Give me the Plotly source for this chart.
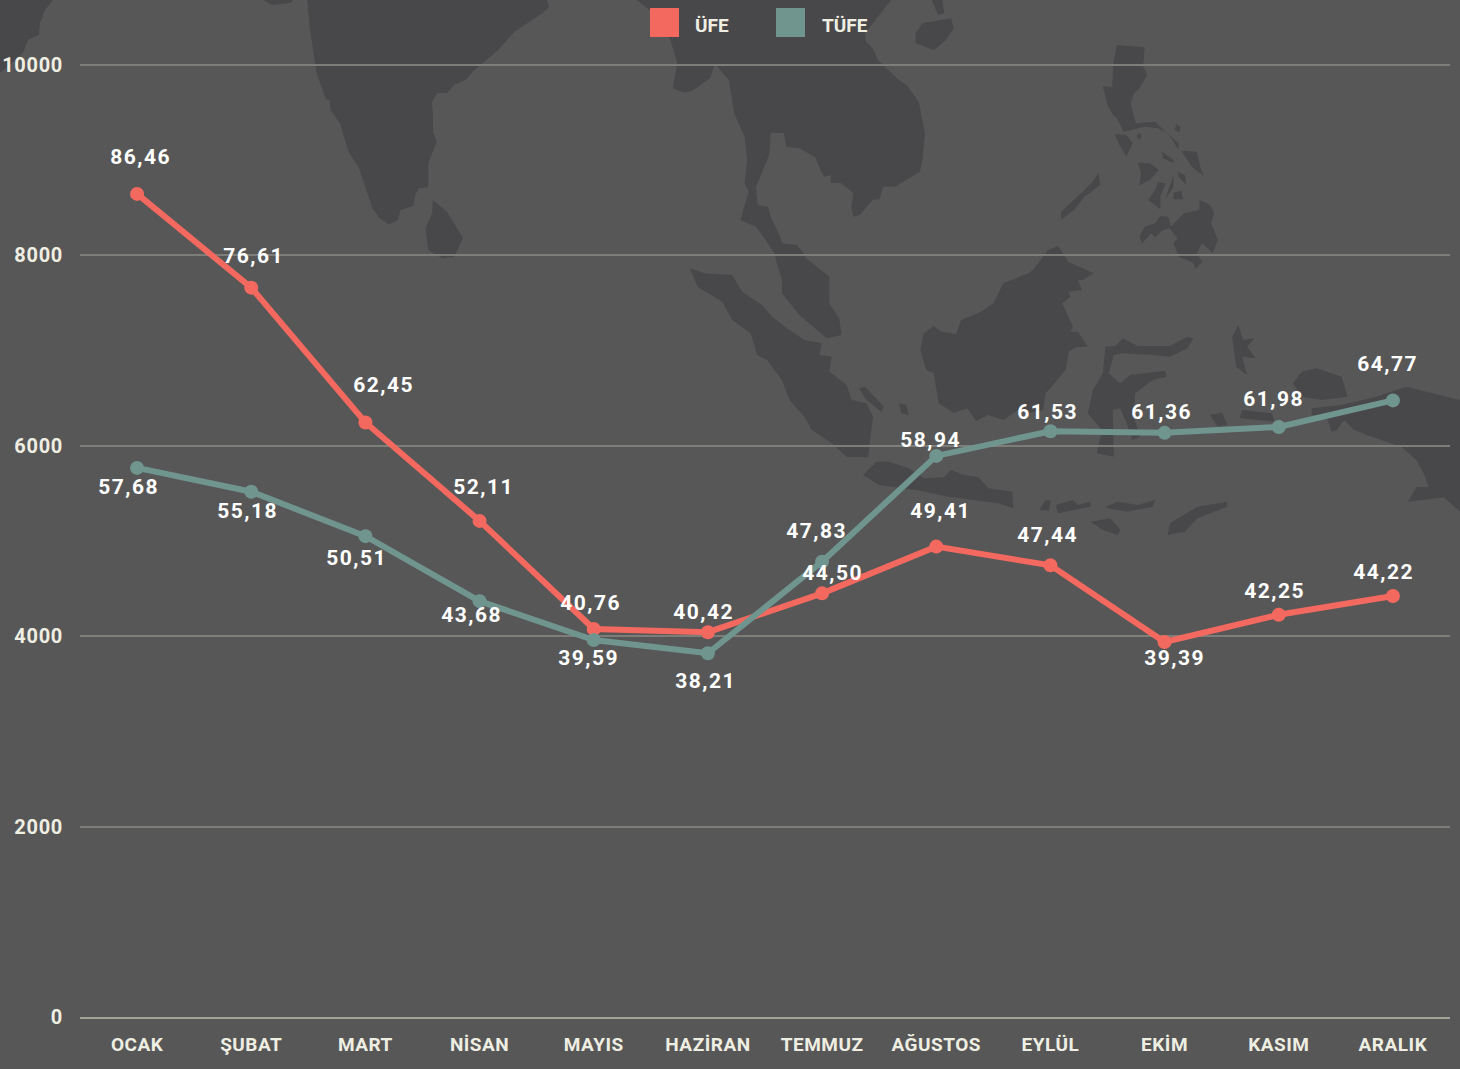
import plotly.graph_objects as go

MONTHS = ["OCAK", "ŞUBAT", "MART", "NİSAN", "MAYIS", "HAZİRAN", "TEMMUZ", "AĞUSTOS", "EYLÜL", "EKİM", "KASIM", "ARALIK"]
UFE = [8646, 7661, 6245, 5211, 4076, 4042, 4450, 4941, 4744, 3939, 4225, 4422]
TUFE = [5768, 5518, 5051, 4368, 3959, 3821, 4783, 5894, 6153, 6136, 6198, 6477]
UFE_SHIFT = [(3, 37), (2, 32), (18, 37), (4, 34), (-3, 26), (-4, 20), (10, 20), (4, 36), (-3, 30), (10, -16), (-4, 24), (-9, 24)]
TUFE_SHIFT = [(-9, -19), (-4, -19), (-9, -22), (-8, -14), (-5, -18), (-2, -28), (-6, 31), (-6, 16), (-3, 19), (-3, 21), (-5, 28), (-5, 36)]

BG, LAND, GRID, AXIS = "#575757", "#48484a", "#7d7d7a", "#a3a398"
RED, TEAL, TICK, WHITE = "#f4695f", "#70958f", "#efeee2", "#ffffff"
FONT = "Roboto"
L, T, W, H = 80, 63, 1370, 954
Y_TOP = 10021

z1 = lambda p: [(x * 730 / 1568, y / 3) for x, y in p]
z2 = lambda p: [(640 + x * 820 / 1568, y / 3) for x, y in p]
z3 = lambda p: [(680 + x * 780 / 1568, 240 + y / 3) for x, y in p]

LAND_SHAPES = [
    [(0, 0), (53, 0), (45, 10), (40, 23), (39, 35), (28, 40), (23, 53), (0, 73)],
    z1([(565, 0), (630, 0), (625, 8), (585, 15)]),
    z1([(660, 0), (665, 80), (680, 220), (700, 298), (708, 300), (710, 330), (730, 370), (750, 460), (770, 500), (800, 625), (815, 655), (835, 673), (855, 660), (860, 630), (888, 618), (892, 585), (900, 565), (920, 562), (920, 490), (938, 425), (930, 395), (930, 345), (928, 305), (940, 278), (960, 280), (975, 255), (1000, 240), (1015, 215), (1070, 150), (1105, 95), (1165, 40), (1180, 20), (1175, 0)]),
    z1([(930, 600), (960, 635), (995, 715), (975, 770), (950, 775), (920, 750), (914, 685), (928, 640)]),
    z1([(1368, 0), (1395, 30), (1440, 120), (1455, 190), (1445, 265), (1470, 278), (1490, 270), (1525, 235), (1535, 195)])
    + z2([(145, 195), (170, 240), (180, 340), (200, 410), (205, 480), (200, 550), (208, 575), (192, 660), (222, 680), (240, 720), (256, 758)])
    + z3([(205, 120), (205, 160), (240, 225), (295, 295), (325, 285), (320, 235), (300, 190), (300, 110), (250, 50)])
    + z2([(318, 770), (300, 735), (272, 730), (265, 700), (250, 650), (245, 620), (225, 615), (222, 560), (247, 465), (250, 398), (275, 400), (280, 440), (305, 445), (335, 472), (345, 510), (352, 530), (365, 525), (365, 548), (385, 550), (408, 580), (404, 620), (408, 650), (420, 645), (445, 600), (458, 598), (465, 560), (488, 560), (535, 515), (540, 480), (545, 400), (533, 305), (510, 255), (495, 240), (455, 180), (445, 145), (432, 125), (430, 100), (450, 60), (480, 0)]),
    z2([(527, 100), (540, 70), (595, 55), (600, 85), (585, 120), (562, 150), (527, 130)]),
    z2([(558, 0), (578, 0), (582, 40), (570, 45)]),
    z2([(912, 135), (965, 142), (962, 200), (970, 225), (955, 265), (945, 280), (938, 310), (948, 370), (985, 365), (1005, 395), (1030, 430), (1030, 450), (1010, 400), (990, 385), (965, 380), (925, 395), (912, 355), (905, 345), (895, 320), (885, 258), (903, 262), (905, 190)]),
    z2([(908, 402), (930, 405), (942, 430), (930, 470), (915, 430)]),
    z2([(950, 405), (958, 400), (958, 415), (952, 418)]),
    z2([(1025, 372), (1033, 380), (1032, 397), (1023, 390)]),
    z2([(1035, 452), (1065, 455), (1072, 505), (1078, 528), (1055, 500)]),
    z2([(952, 488), (975, 490), (992, 510), (975, 540), (955, 556), (958, 520)]),
    z2([(990, 547), (1005, 550), (995, 590), (995, 628), (972, 600), (985, 570)]),
    z2([(1020, 525), (1004, 600), (1020, 560)]),
    z2([(1028, 515), (1042, 525), (1045, 555), (1030, 530)]),
    z2([(1020, 578), (1035, 572), (1038, 598), (1020, 598)]),
    z2([(998, 455), (1020, 480), (1020, 490), (1000, 475)]),
    z2([(1070, 600), (1090, 615), (1098, 640), (1092, 670), (1105, 720), (1095, 760), (1075, 730), (1065, 760), (1075, 785), (1062, 807), (1058, 788), (1030, 770), (1020, 730), (1028, 715), (1012, 685), (1000, 690), (985, 712), (978, 700), (960, 730), (955, 710), (965, 680), (985, 670), (995, 648), (1010, 650), (1015, 680), (1040, 640), (1070, 630)]),
    z2([(877, 518), (880, 555), (850, 590), (830, 630), (806, 658), (805, 635), (850, 570), (868, 540)]),
    z3([(760, 18), (780, 65), (832, 100), (810, 120), (800, 120), (808, 150), (780, 155), (785, 170), (768, 190), (790, 260), (785, 275), (800, 275), (820, 320), (795, 322), (782, 335), (775, 390), (750, 435), (735, 460), (730, 510), (700, 520), (680, 510), (650, 540), (620, 525), (595, 543), (578, 505), (550, 518), (520, 490), (510, 400), (495, 390), (483, 330), (490, 280), (510, 258), (525, 275), (555, 282), (565, 240), (605, 215), (630, 190), (650, 130), (700, 100), (710, 90), (740, 30)]),
    z3([(20, 85), (50, 100), (105, 105), (125, 155), (165, 195), (185, 230), (215, 265), (250, 300), (285, 310), (280, 345), (305, 350), (300, 395), (335, 435), (345, 480), (375, 490), (388, 530), (378, 652), (335, 650), (305, 610), (265, 570), (250, 530), (220, 480), (205, 420), (175, 360), (155, 345), (142, 280), (105, 240), (85, 185), (35, 140)]),
    z3([(360, 445), (372, 440), (410, 500), (405, 515), (375, 480)]),
    z3([(440, 490), (455, 495), (460, 525), (445, 520)]),
    z3([(368, 705), (395, 665), (420, 665), (460, 685), (490, 715), (530, 712), (545, 690), (570, 705), (600, 712), (620, 745), (668, 755), (670, 805), (640, 790), (540, 770), (475, 750), (400, 735)]),
    z3([(855, 320), (875, 318), (890, 295), (920, 318), (985, 318), (1020, 290), (1032, 295), (1020, 325), (985, 350), (950, 345), (890, 340), (872, 345), (862, 400), (885, 430), (905, 405), (975, 392), (978, 410), (950, 420), (915, 460), (912, 530), (925, 590), (910, 600), (895, 540), (885, 505), (870, 510), (872, 650), (838, 640), (848, 570), (820, 520), (830, 450), (850, 400)]),
    z3([(1122, 255), (1132, 300), (1155, 295), (1140, 320), (1157, 355), (1130, 350), (1140, 405), (1118, 380), (1110, 290)]),
    z3([(1065, 525), (1090, 518), (1100, 555), (1080, 558)]),
    z3([(1130, 510), (1190, 520), (1195, 545), (1125, 535)]),
    z3([(1232, 430), (1250, 395), (1280, 385), (1330, 410), (1342, 470), (1290, 480), (1250, 470)]),
    z3([(1270, 505), (1330, 495), (1400, 470), (1460, 440), (1568, 480), (1568, 815), (1535, 772), (1463, 785), (1480, 742), (1505, 740), (1495, 700), (1480, 660), (1450, 620), (1390, 590), (1355, 570), (1335, 540), (1320, 570), (1310, 575), (1300, 530), (1270, 525)]),
    z3([(735, 780), (745, 782), (742, 812), (722, 810)]),
    z3([(755, 795), (790, 780), (800, 795), (825, 785), (825, 800), (760, 820)]),
    z3([(855, 800), (880, 785), (920, 795), (955, 780), (950, 800), (900, 815), (860, 805)]),
    z3([(825, 845), (865, 835), (885, 870), (880, 885), (850, 870)]),
    z3([(980, 885), (985, 850), (1040, 800), (1100, 785), (1100, 800), (1040, 835), (1015, 875)]),
]


def px(x, y):
    return (x - L) / W, (T + H - y) / H


def land_path(poly):
    pts = [px(x, y) for x, y in poly]
    return "M" + " L".join(f"{a:.5f},{b:.5f}" for a, b in pts) + " Z"


shapes = [dict(type="path", xref="paper", yref="paper", path=land_path(p), fillcolor=LAND,
               line=dict(width=0), layer="below") for p in LAND_SHAPES]

annotations = []
for vals, shifts in ((UFE, UFE_SHIFT), (TUFE, TUFE_SHIFT)):
    for month, v, (dx, dy) in zip(MONTHS, vals, shifts):
        annotations.append(dict(x=month, y=v, xref="x", yref="y", text=f"{v / 100:.2f}".replace(".", ","),
                                showarrow=False, xshift=dx, yshift=dy, xanchor="center", yanchor="middle",
                                font=dict(family=FONT, size=21, color=WHITE, weight=700)))

for (x0, x1), colour, tx, name in (((650, 679), RED, 712, "ÜFE"), ((776, 805), TEAL, 845, "TÜFE")):
    a, b = px(x0, 37), px(x1, 8)
    shapes.append(dict(type="rect", xref="paper", yref="paper", x0=a[0], y0=a[1], x1=b[0], y1=b[1],
                       fillcolor=colour, line=dict(width=0), layer="above"))
    t = px(tx, 25)
    annotations.append(dict(x=t[0], y=t[1], xref="paper", yref="paper", text=name, showarrow=False,
                            xanchor="center", yanchor="middle",
                            font=dict(family=FONT, size=19, color=TICK, weight=700)))

fig = go.Figure()
for name, vals, colour in (("ÜFE", UFE, RED), ("TÜFE", TUFE, TEAL)):
    fig.add_trace(go.Scatter(x=MONTHS, y=vals, name=name, mode="lines+markers", cliponaxis=False,
                             line=dict(color=colour, width=6), marker=dict(color=colour, size=14)))

fig.update_layout(
    width=1460, height=1069, margin=dict(l=L, r=1460 - L - W, t=T, b=1069 - T - H, autoexpand=False),
    paper_bgcolor=BG, plot_bgcolor=BG, showlegend=False, shapes=shapes, annotations=annotations,
    font=dict(family=FONT, color=TICK),
    xaxis=dict(type="category", range=[-0.5, 11.5], showgrid=False, ticks="", showline=True, linecolor=AXIS,
               linewidth=2, zeroline=False, automargin=False, ticklabelstandoff=9,
               tickfont=dict(family=FONT, size=19, color=TICK, weight=700)),
    yaxis=dict(range=[0, Y_TOP], tickvals=[0, 2000, 4000, 6000, 8000, 10000], tickformat="d", gridcolor=GRID, gridwidth=1.5,
               zeroline=False, ticks="", showline=False, automargin=False, ticklabelstandoff=16,
               tickfont=dict(family=FONT, size=20, color=TICK, weight=700)),
)

fig.write_html("out.html", config={"displayModeBar": False}, post_script=(
    "document.body.style.margin='0';document.body.style.overflow='hidden';"
    "document.querySelectorAll('.annotation-text').forEach(t=>{if(/,/.test(t.textContent))t.style.letterSpacing='1.5px'});"
    "document.querySelectorAll('.xtick text').forEach(t=>t.style.letterSpacing='0.5px');"
    "document.querySelectorAll('.ytick text').forEach(t=>t.style.letterSpacing='0.7px');"
))
